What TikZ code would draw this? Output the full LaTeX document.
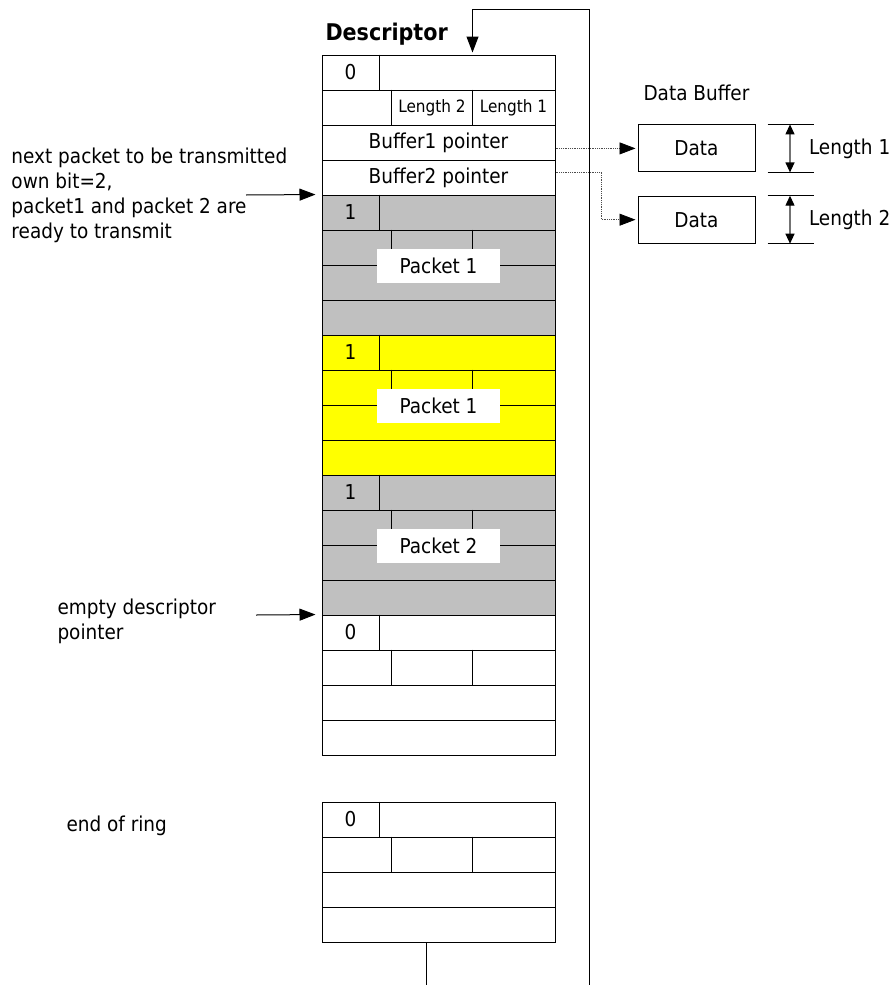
\documentclass[tikz,border=0pt]{standalone}
\usepackage{fontspec}
\setmainfont{DejaVu Sans}[FakeStretch=0.9]
\usetikzlibrary{arrows.meta,positioning,calc}
\newcommand\mainsize{\fontsize{20.5}{25}\selectfont}
\newcommand\cellsize{\fontsize{17}{20}\selectfont}
\newcommand\headsize{\fontsize{23}{27}\selectfont\bfseries}
\definecolor{ringgray}{RGB}{192,192,192}
\definecolor{ringyellow}{RGB}{255,255,0}
\tikzset{
every picture/.style={
line width=1pt
}}
\tikzset{
  row/.style={draw, fill=#1, minimum width=233pt, minimum height=35pt, inner sep=0pt},
  row/.default=white,
  pkt/.style={fill=white, minimum width=123pt, minimum height=34pt, inner sep=0pt},
  buf/.style={draw, minimum width=117pt, minimum height=47pt, inner sep=0pt},
  txt/.style={inner sep=0pt, align=left},
  arr/.style={-{Triangle[length=16pt,width=12pt]}},
  ptr/.style={densely dotted, draw=black!70, line width=0.8pt, shorten >=2pt,
    -{Triangle[length=16pt,width=12pt,color=black]}},
  dim/.style={draw=black!55, line width=1.2pt,
    {Triangle[length=10pt,width=9pt,color=black]}-{Triangle[length=10pt,width=9pt,color=black]}}
}
\begin{document}
\begin{tikzpicture}[x=1pt, y=-1pt, font=\mainsize]
  \useasboundingbox (0,0) rectangle (892,985);

  % descriptors, four rows each
  \foreach \g/\ytop/\col in {0/55/white, 1/195/ringgray, 2/335/ringyellow,
      3/475/ringgray, 4/615/white, 5/802/white} {
    \foreach \r in {0,...,3}
      \node[row=\col] (d\g-\r) at (438.5, {\ytop+35*\r+17.5}) {};
    \draw (d\g-0.north west) ++(58,0) -- ++(0,35);
    \draw (d\g-1.north west) ++(70,0) -- ++(0,35) ++(81,-35) -- ++(0,35);
  }

  \node[font=\headsize, anchor=base west, inner sep=0pt] (head) at (325,40) {Descriptor};
  \node (own0) at ([xshift=29pt]d0-0.west) {0};
  \node[font=\cellsize] (len2) at ([xshift=110.5pt]d0-1.west) {Length 2};
  \node[font=\cellsize] (len1) at ([xshift=192pt]d0-1.west) {Length 1};
  \node (buf1) at (d0-2) {Buffer1 pointer};
  \node (buf2) at (d0-3) {Buffer2 pointer};
  \foreach \g/\b in {1/1, 2/1, 3/1, 4/0, 5/0}
    \node (own\g) at ([xshift=29pt]d\g-0.west) {\b};
  \node[pkt] (pk1) at (d1-1.south) {Packet 1};
  \node[pkt] (pk2) at (d2-1.south) {Packet 1};
  \node[pkt] (pk3) at (d3-1.south) {Packet 2};

  % data buffers
  \node[txt, anchor=base west] (dbhead) at (643,100.6) {Data Buffer};
  \node[buf] (data1) at (696.5,148.4) {Data};
  \node[buf, below=23.3pt of data1] (data2) {Data};
  \draw[ptr] (d0-2.east |- data1.west) -- (data1.west);
  \draw[ptr] (d0-3.east |- data1.south) -- ++(46,0) |- (data2.west);

  \coordinate (dimx) at (790,0);
  \foreach \n/\t in {1/Length 1, 2/Length 2} {
    \draw (data\n.north east) ++(12,0) -- ++(46,0);
    \draw (data\n.south east) ++(12,0) -- ++(46,0);
    \draw[dim] (data\n.north -| dimx) -- (data\n.south -| dimx);
    \node[txt, right=53pt of data\n] (size\n) {\t};
  }

  % notes on the left
  \node[txt, anchor=west] (nextnote) at (11,195)
    {next packet to be transmitted\\own bit=2,\\packet1 and packet 2 are\\ready to transmit};
  \coordinate (nextp) at (246,195);
  \draw[arr, shorten >=6pt] (nextp) -- (d1-0.north west);
  \node[txt, anchor=west] (emptynote) at (57,621) {empty descriptor\\pointer};
  \coordinate (emptyp) at (256,615);
  \draw[arr, shorten >=6pt] (emptyp) -- (d4-0.north west);
  \node[txt, anchor=base west] (endnote) at (66,831.6) {end of ring};

  % ring back to the first descriptor
  \coordinate (ringtop) at (589,9);
  \coordinate (ringbot) at (589,985);
  \draw[arr, shorten >=2pt] (ringbot) -- (ringtop) -| ([xshift=34pt]d0-0.north);
  \coordinate (stub) at (426,985);
  \draw (d5-3.south -| stub) -- (stub);
\end{tikzpicture}
\end{document}
